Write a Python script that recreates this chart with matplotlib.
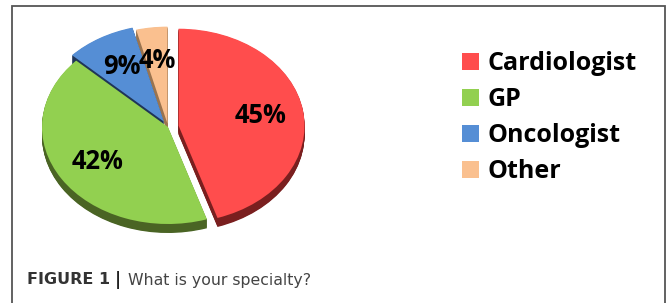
import matplotlib.pyplot as plt
from matplotlib.patches import Rectangle

specialties = ['Cardiologist', 'GP', 'Oncologist', 'Other']
shares = [45, 42, 9, 4]
face_colors = ['#FF4D4D', '#92D050', '#558ED5', '#FAC08F']
side_colors = ['#7A1F1F', '#4A6424', '#1F3557', '#9A7450']
explode = [0.085, 0.0, 0.065, 0.035]

W, H = 667, 303
fig = plt.figure(figsize=(W / 100, H / 100), dpi=100)

# pie is squashed into an ellipse to fake the 3D tilt
cx, cy, rx, ry = 168, 127, 126, 97
L = 1.3
ax = fig.add_axes([(cx - L * rx) / W, 1 - (cy + L * ry) / H,
                   2 * L * rx / W, 2 * L * ry / H])

depth = 9 / ry
n_layers = 14
for k in range(n_layers, 0, -1):
    off = depth * k / n_layers
    ax.pie(shares, colors=side_colors, explode=explode, startangle=90,
           counterclock=False, center=(0, -off),
           wedgeprops=dict(linewidth=0, antialiased=True))

wedges, _, pcts = ax.pie(shares, colors=face_colors, explode=explode,
                         startangle=90, counterclock=False,
                         autopct='%.0f%%', pctdistance=0.66,
                         wedgeprops=dict(linewidth=0),
                         textprops=dict(family='Open Sans', weight='bold',
                                        fontsize=18.4, color='black'))
ax.set_aspect('auto')
ax.set_xlim(-L, L)
ax.set_ylim(-L, L)
ax.axis('off')

fig.legend(wedges, specialties, loc='upper left',
           bbox_to_anchor=(462 / W, 1 - 51 / H), frameon=False,
           prop=dict(family='Open Sans', weight='bold', size=18),
           handlelength=0.68, handleheight=0.68, handletextpad=0.33,
           labelspacing=0.44, borderpad=0, borderaxespad=0)

# frame around the figure panel (open at the bottom)
fig.patches.append(Rectangle((12 / W, -0.1), (665 - 12) / W, 1.1 - 6 / H,
                             transform=fig.transFigure, fill=False,
                             edgecolor='#555555', linewidth=1.3))

fig.text(27 / W, 1 - 280 / H, 'FIGURE 1', family='DejaVu Sans',
         weight='bold', fontsize=11.5, color='#333333', va='center')
fig.text(115 / W, 1 - 280 / H, '|', family='DejaVu Sans',
         weight='bold', fontsize=12, color='#222222', va='center')
fig.text(128 / W, 1 - 280 / H, 'What is your specialty?',
         family='DejaVu Sans', fontsize=11.3, color='#444444', va='center')

fig.savefig('out.png', dpi=100)
